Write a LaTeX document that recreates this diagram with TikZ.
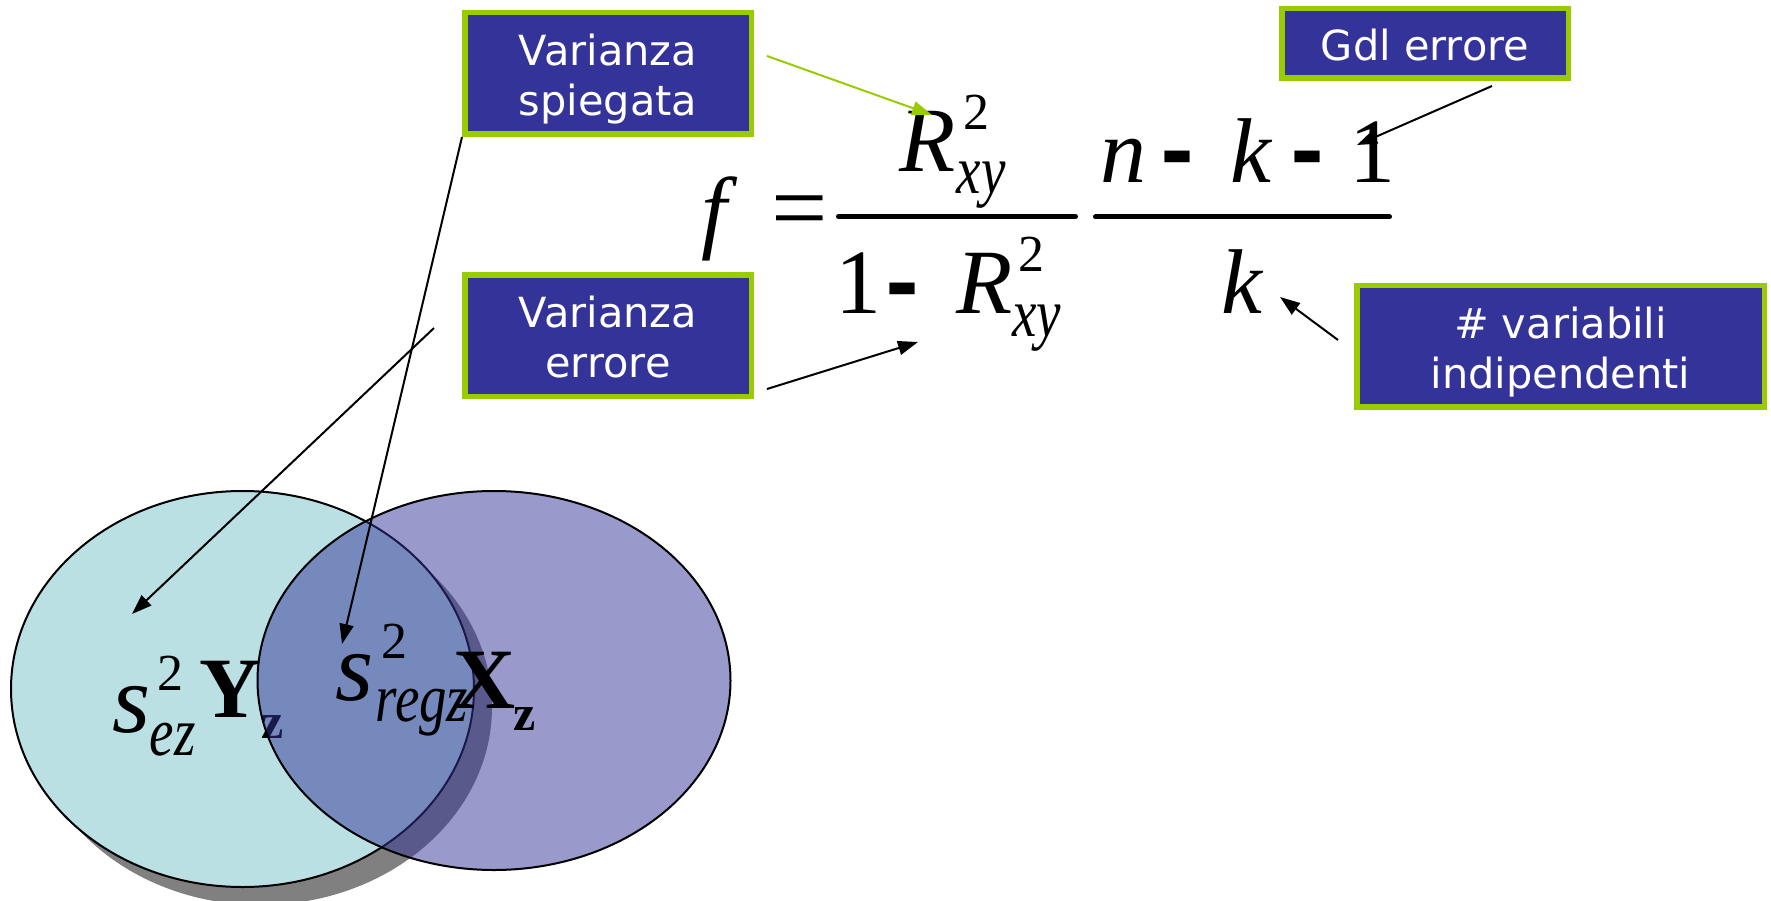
\documentclass[tikz,border=0pt]{standalone}
\usepackage{fontspec}
\usepackage{graphicx}
\usepackage{xcolor}
\usepackage{tikz}
\usetikzlibrary{arrows.meta}

\newfontfamily\boxfont{DejaVu Sans}
\newfontfamily\eqfont{Liberation Serif}
\newfontfamily\dashfont{DejaVu Sans}
\newcommand{\fsz}[1]{\fontsize{#1}{#1}\selectfont}

\definecolor{boxblue}{HTML}{333399}
\definecolor{boxgreen}{HTML}{99CC00}
\definecolor{venncyan}{HTML}{BBE0E3}
\definecolor{vennshadow}{HTML}{808080}

\tikzset{
	labelbox/.style={fill=boxblue, draw=boxgreen, line width=5.5pt, text=white, align=center,
		inner sep=0pt, font=\boxfont\fontsize{41.5}{50}\selectfont},
	twoline/.style={minimum height=121.5pt, text height=94pt, text depth=10pt},
	oneline/.style={minimum height=69.5pt, text height=45pt, text depth=10pt},
	eqit/.style={inner sep=0pt, anchor=base, font=\eqfont\itshape\fsz{92}},
	equp/.style={inner sep=0pt, anchor=base, font=\eqfont\fsz{92}},
	eqsup/.style={inner sep=0pt, anchor=base, font=\eqfont\fsz{52}},
	eqsub/.style={inner sep=0pt, anchor=base, font=\eqfont\itshape\fsz{55}},
	eqdash/.style={inner sep=0pt, anchor=base, font=\dashfont\bfseries\fsz{82}},
	vecbold/.style={inner sep=0pt, anchor=base, font=\eqfont\bfseries\fsz{86}},
	vecsub/.style={inner sep=0pt, anchor=base, font=\eqfont\bfseries\fsz{50}},
	varsym/.style={inner sep=0pt, anchor=base, font=\eqfont\itshape\fsz{98}},
	pointer/.style={-{Triangle[length=20pt,width=14pt]}, line width=2pt},
	fracbar/.style={line width=5pt, line cap=round}
}

\begin{document}
\begin{tikzpicture}[x=1pt, y=-1pt]
	\useasboundingbox (0,0) rectangle (1771,901);

	\fill[vennshadow] (260.5,707) ellipse [x radius=231.5pt, y radius=198pt];
	\filldraw[fill=venncyan, line width=2pt] (242.5,689) ellipse [x radius=231.5pt, y radius=198pt];

	\node[varsym] (s1) at (131.5,732) {s};
	\node[eqsup] (s1sq) at (170.5,690) {2};
	\node[eqsub] (s1sub) at (172.5,755) {\scalebox{1}[1.25]{ez}};
	\node[vecbold] (Y) at (230.5,717) {Y};
	\node[vecsub] (Ysub) at (273,738) {z};

	\filldraw[fill=boxblue, fill opacity=0.5, line width=2pt] (494,680.5) ellipse [x radius=236.5pt, y radius=189.5pt];

	\node[varsym] (s2) at (355,700) {s};
	\node[eqsup] (s2sq) at (394.5,658) {2};
	\node[eqsub] (s2sub) at (422,721) {\scalebox{1}[1.25]{regz}};
	\node[vecbold] (X) at (485,708) {X};
	\node[vecsub] (Xsub) at (525,730) {z};

	\node[labelbox, twoline, minimum width=286.5pt] (spiegata) at (608,73.5) {Varianza\\spiegata};
	\node[labelbox, twoline, minimum width=286.5pt] (errore) at (608,335.5) {Varianza\\errore};
	\node[labelbox, oneline, minimum width=286.5pt] (gdl) at (1425,43.5) {Gdl errore};
	\node[labelbox, twoline, minimum width=407.5pt] (nvar) at (1560.5,346) {\# variabili\\indipendenti};

	\foreach \name/\x/\y/\txt in {
		f/714.5/242/f,
		R1/928/172/R,
		R2/985/313/R,
		n/1123/183/n,
		k1/1251/183/k,
		k2/1242/313/k
	}{
		\node[eqit] (\name) at (\x,\y) {\txt};
	}
	\node[equp, font=\eqfont\fsz{100}] (eq) at (800,242) {=};
	\node[equp] (one1) at (858.5,313) {1};
	\node[equp] (one2) at (1372.5,183) {1};
	\node[eqsup] (sq1) at (976.5,130) {2};
	\node[eqsup] (sq2) at (1031.5,272) {2};
	\node[eqsub] (xy1) at (981,194) {\scalebox{1}[1.25]{xy}};
	\node[eqsub] (xy2) at (1036.5,336) {\scalebox{1}[1.25]{xy}};
	\foreach \i/\x/\y in {1/902.5/312, 2/1177.5/181, 3/1307.5/181}{
		\node[eqdash] (minus\i) at (\x,\y) {-};
	}
	\draw[fracbar] (838.5,216.5) -- (1075.5,216.5);
	\draw[fracbar] (1095.5,217) -- (1389.5,217);

	\coordinate (greentail) at (767,56);
	\coordinate (greentip) at (932,115);
	\coordinate (errtail) at (767,389);
	\coordinate (errtip) at (918,342);
	\coordinate (regtip) at (342,644);
	\coordinate (eztail) at (434,328);
	\coordinate (eztip) at (132,614);
	\coordinate (gdltail) at (1492,86);
	\coordinate (gdltip) at (1357,145);
	\coordinate (nvartail) at (1338,340);
	\coordinate (nvartip) at (1280,297);

	\draw[pointer, boxgreen] (greentail) -- (greentip);
	\draw[pointer] (errtail) -- (errtip);
	\draw[pointer] (spiegata.south west) -- (regtip);
	\draw[pointer] (eztail) -- (eztip);
	\draw[pointer] (gdltail) -- (gdltip);
	\draw[pointer] (nvartail) -- (nvartip);
\end{tikzpicture}
\end{document}
